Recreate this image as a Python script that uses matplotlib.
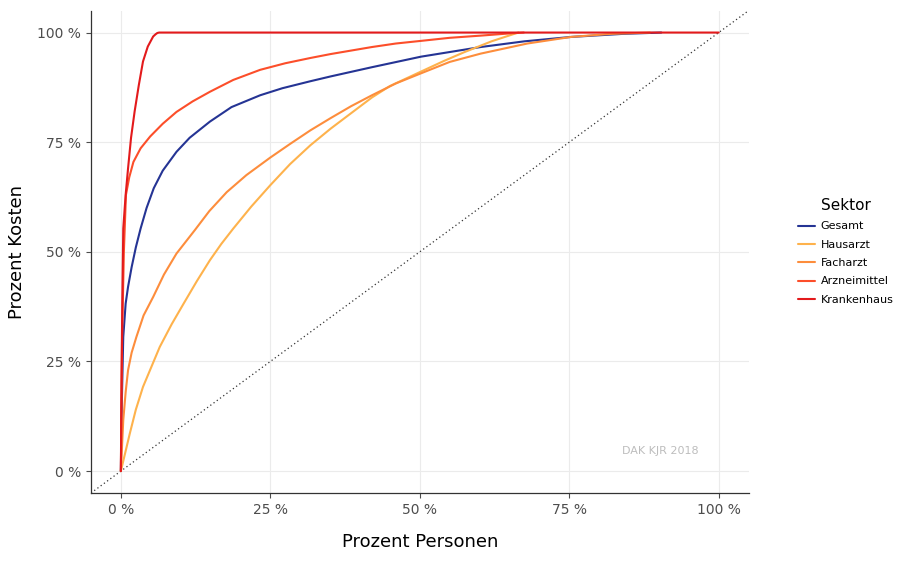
import matplotlib
matplotlib.use("Agg")
import matplotlib.pyplot as plt

# Lorenz-Kurven je Sektor (Prozent Personen, Prozent Kosten)
gesamt_x = [0, 0.1, 0.3, 0.4, 0.8, 1.2, 1.8, 2.5, 3.3, 4.3, 5.5, 7.0, 9.3, 11.5, 14.9,
            18.5, 23.3, 27.0, 31.7, 35.1, 42.0, 50.2, 60.2, 67.5, 75.3, 84.0, 90.4]
gesamt_y = [0, 12, 24.6, 30.6, 38.2, 42.0, 46.5, 51.0, 55.3, 60.0, 64.5, 68.5, 72.8, 76.0, 79.7,
            83.0, 85.7, 87.3, 88.9, 90.0, 92.1, 94.5, 96.7, 98.0, 99.0, 99.7, 100]

hausarzt_x = [0, 1.5, 2.5, 3.7, 6.5, 8.5, 10.5, 12.7, 14.9, 16.8, 18.8, 21.8, 25.0, 28.3,
              31.7, 35.1, 42.0, 45.0, 50.2, 54.0, 57.4, 62.0, 65.8, 66.5]
hausarzt_y = [0, 8.6, 14.0, 19.2, 28.3, 33.5, 38.2, 43.3, 48.1, 51.8, 55.3, 60.3, 65.2, 70.0,
              74.3, 78.1, 85.2, 87.8, 91.1, 93.5, 95.5, 98.0, 99.7, 100]

facharzt_x = [0, 0.4, 0.8, 1.2, 1.8, 2.6, 3.8, 5.4, 7.2, 9.3, 12.4, 14.8, 17.7, 21.0,
              25.0, 28.3, 31.7, 35.1, 38.5, 42.0, 46.0, 50.2, 55.0, 60.2, 68.0, 75.3, 82.0, 88.5]
facharzt_y = [0, 11.6, 18.0, 23.0, 27.0, 30.6, 35.5, 39.7, 44.8, 49.6, 55.0, 59.3, 63.6, 67.5,
              71.5, 74.6, 77.7, 80.5, 83.2, 85.7, 88.4, 90.7, 93.3, 95.2, 97.5, 99.0, 99.7, 100]

arznei_x = [0, 0.1, 0.2, 0.5, 0.85, 1.4, 2.1, 3.3, 4.9, 7.0, 9.3, 12.0, 14.9, 18.8, 23.3,
            27.5, 31.7, 35.1, 42.0, 46.0, 50.2, 55.0, 60.2, 65.0, 67.4]
arznei_y = [0, 15, 30, 50, 63.0, 67.0, 70.5, 73.6, 76.3, 79.2, 81.9, 84.3, 86.5, 89.2, 91.5,
            93.0, 94.2, 95.1, 96.7, 97.5, 98.1, 98.8, 99.3, 99.8, 100]

kranken_x = [0, 0.05, 0.1, 0.25, 0.4, 0.8, 1.2, 1.7, 2.3, 3.0, 3.7, 4.5, 5.4, 5.8, 6.1, 6.4, 100]
kranken_y = [0, 10, 20, 40, 55.3, 63, 69.0, 76, 82.0, 88, 93.4, 96.8, 99.1, 99.6, 99.9, 100, 100]

sektoren = ["Gesamt", "Hausarzt", "Facharzt", "Arzneimittel", "Krankenhaus"]
farben = ["#253494", "#feb24c", "#fd8d3c", "#fc4e2a", "#e31a1c"]

kurven = [
    (gesamt_x, gesamt_y),
    (hausarzt_x, hausarzt_y),
    (facharzt_x, facharzt_y),
    (arznei_x, arznei_y),
    (kranken_x, kranken_y),
]

ticks = [0, 25, 50, 75, 100]
tick_labels = ["0 %", "25 %", "50 %", "75 %", "100 %"]

fig = plt.figure(figsize=(8.99, 5.65), dpi=100)
ax = fig.add_axes([0.1012, 0.1274, 0.7315, 0.8538])

# Gleichverteilung
ax.plot([-5, 105], [-5, 105], color="#333333", linestyle=(0, (1, 2.2)), linewidth=0.9, zorder=1)

for (x, y), name, farbe in zip(kurven, sektoren, farben):
    ax.plot(x, y, color=farbe, linewidth=1.5, label=name, zorder=2,
            solid_joinstyle="round", solid_capstyle="round")

ax.text(90.3, 4.6, "DAK KJR 2018", color="#bdbdbd", fontsize=8, ha="center", va="center")

ax.set_xlim(-5, 105)
ax.set_ylim(-5, 105)
ax.set_xticks(ticks)
ax.set_xticklabels(tick_labels)
ax.set_yticks(ticks)
ax.set_yticklabels(tick_labels)
ax.tick_params(colors="#4d4d4d", labelsize=10, length=3.5, width=0.8, labelcolor="#4d4d4d")
ax.grid(True, color="#ebebeb", linewidth=0.8)
ax.set_axisbelow(True)
for s in ["top", "right"]:
    ax.spines[s].set_visible(False)
for s in ["left", "bottom"]:
    ax.spines[s].set_color("#333333")
    ax.spines[s].set_linewidth(0.9)

ax.set_xlabel("Prozent Personen", fontsize=13, labelpad=12)
ax.set_ylabel("Prozent Kosten", fontsize=13, labelpad=8)

leg = ax.legend(title="Sektor", loc="center left", bbox_to_anchor=(0.876, 0.555),
                bbox_transform=fig.transFigure, frameon=False, fontsize=8,
                title_fontsize=11, handlelength=1.6, labelspacing=0.75, handletextpad=0.5)
leg._legend_box.align = "center"

fig.savefig("out.png", dpi=100)
